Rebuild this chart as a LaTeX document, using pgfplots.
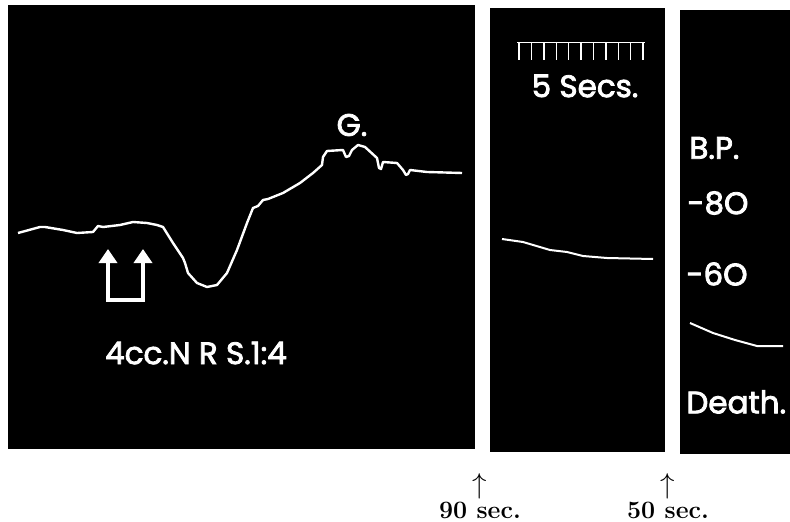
\documentclass[border=0pt]{standalone}
\usepackage{pgfplots}
\pgfplotsset{compat=1.18}
\usepackage{fontspec}
\newfontfamily\labfont{Poppins}[FakeBold=2.6]
\usetikzlibrary{arrows.meta}
\pgfplotsset{panel/.style={scale only axis, y dir=reverse, xtick=\empty, ytick=\empty,
  axis line style={black}, axis background/.style={fill=black}, clip=false, anchor=north west}}
\newcommand\lab{\labfont\fontsize{15.5}{16}\selectfont}
\begin{document}
\begin{tikzpicture}
\path[use as bounding box] (0pt,0pt) rectangle (395pt,-261pt);
% Panel 1
\begin{axis}[panel, at={(4pt,-2.5pt)}, width=233pt, height=221.5pt,
  xmin=8, xmax=474, ymin=5, ymax=448]
\addplot[white, line width=1.2pt, line join=round] coordinates {
(18,233) (40,227) (45,227) (63,230) (77,233) (93,232) (98,226) (103,227)
(120,225) (133,222) (147,223) (157,225) (163,227) (173,243) (183,258)
(185,263) (188,273) (197,283) (207,287) (217,285) (227,273) (237,250)
(247,223) (253,208) (258,206) (263,200) (268,199) (283,193) (300,183)
(313,173) (322,165) (323,157) (327,151) (343,150) (346,157) (349,156) (352,150)
(358,145) (365,147) (377,158) (379,168) (381,169) (383,162) (397,163)
(403,170) (406,175) (408,174) (410,170) (427,172) (462,173)};
\addplot[white, line width=1.8pt, {Triangle[width=9pt,length=7pt]}-{Triangle[width=9pt,length=7pt]}]
  coordinates {(108,249) (108,300) (143,300) (143,249)};
\node[white, font=\lab] at (axis cs:352,125) {G.};
\node[white, font=\lab] at (axis cs:196,353) {4cc.N R S.1:4};
\end{axis}
% Panel 2
\begin{axis}[panel, at={(245pt,-4pt)}, width=87pt, height=221.5pt,
  xmin=490, xmax=664, ymin=8, ymax=451]
\addplot[white, line width=1pt, line join=round] coordinates {
(502,239) (523,242) (550,250) (567,252) (583,256) (607,258) (653,259)};
\addplot[white, line width=0.5pt] coordinates {(517,43) (645,43)};
\addplot[white, line width=0.7pt, unbounded coords=jump] coordinates {
(519,43) (519,60) (519,nan)
(531.4,43) (531.4,60) (531.4,nan)
(543.8,43) (543.8,60) (543.8,nan)
(556.2,43) (556.2,60) (556.2,nan)
(568.6,43) (568.6,60) (568.6,nan)
(581,43) (581,60) (581,nan)
(593.4,43) (593.4,60) (593.4,nan)
(605.8,43) (605.8,60) (605.8,nan)
(618.2,43) (618.2,60) (618.2,nan)
(630.6,43) (630.6,60) (630.6,nan)
(643,43) (643,60)};
\node[white, font=\lab] at (axis cs:585,86) {5 Secs.};
\end{axis}
% Panel 3
\begin{axis}[panel, at={(340pt,-5pt)}, width=55pt, height=221.5pt,
  xmin=680, xmax=790, ymin=10, ymax=453]
\addplot[white, line width=1pt, line join=round] coordinates {
(690,323) (713,333) (735,340) (757,346) (783,346)};
\node[white, font=\lab, anchor=west, inner sep=0pt] at (axis cs:689,148) {B.P.};
\node[white, font=\lab, anchor=west, inner sep=0pt] at (axis cs:687,203) {-8O};
\node[white, font=\lab, anchor=west, inner sep=0pt] at (axis cs:686,274) {-6O};
\node[white, font=\lab, anchor=west, inner sep=0pt] at (axis cs:686,402) {Death.};
\end{axis}
% bottom annotations
\node[font=\Large] at (240pt,-243pt) {$\uparrow$};
\node at (240pt,-255pt) {\bfseries\fontsize{12.5}{13}\selectfont 90 sec.};
\node[font=\Large] at (334pt,-243pt) {$\uparrow$};
\node at (334pt,-255pt) {\bfseries\fontsize{12.5}{13}\selectfont 50 sec.};
\end{tikzpicture}
\end{document}
